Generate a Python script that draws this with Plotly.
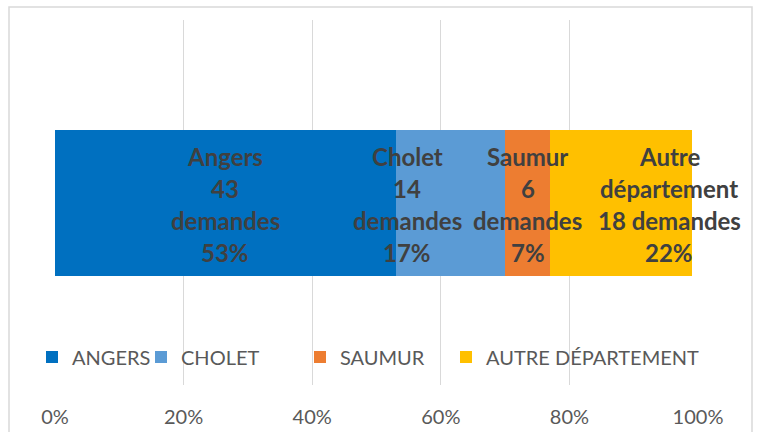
import plotly.graph_objects as go

# Data
categories = ["Demandes"]
series_names = ["ANGERS", "CHOLET", "SAUMUR", "AUTRE DÉPARTEMENT"]
label_names = ["Angers", "Cholet", "Saumur", "Autre département"]
counts = [43, 14, 6, 18]
percents = [53, 17, 7, 22]
tick_values = [0, 20, 40, 60, 80, 100]

# Styles
colors = ["#0070C0", "#5B9BD5", "#ED7D31", "#FFC000"]
label_x_offsets = [0, -6.7, 0, 7.5]  # manual label nudges (in % units)
legend_text_px = [73, 182, 341, 487]  # legend text start positions (pixels)
FONT = "Lato, Carlito, 'Liberation Sans', sans-serif"
PLOT_L, PLOT_W = 55, 643

fig = go.Figure()
legend_ids = ["legend", "legend2", "legend3", "legend4"]
for name, pct, col, lid in zip(series_names, percents, colors, legend_ids):
    fig.add_trace(go.Bar(
        y=categories, x=[pct], name=name, orientation="h",
        marker=dict(color=col, line=dict(width=0)),
        hoverinfo="x+name", legend=lid,
    ))


def label_lines(name, count, pct):
    words = name.split(" ")
    if len(words) > 1:
        return [words[0], " ".join(words[1:]), f"{count} demandes", f"{pct}%"]
    return [name, f"{count}", "demandes", f"{pct}%"]


annotations = []
start = 0
for name, cnt, pct, off in zip(label_names, counts, percents, label_x_offsets):
    cx = start + pct / 2 + off
    lines = label_lines(name, cnt, pct)
    n = len(lines)
    for i, line in enumerate(lines):
        annotations.append(dict(
            x=cx, y=0.5, xref="x", yref="paper",
            text=f"<b>{line}</b>", showarrow=False,
            xanchor="center", yanchor="middle",
            yshift=((n - 1) / 2 - i) * 31.7 - 2,
            font=dict(family=FONT, size=24, color="#404040"),
        ))
    start += pct

legend_style = dict(
    orientation="h", xanchor="left", y=0.077, yanchor="middle",
    font=dict(family=FONT, size=20, color="#595959"),
    bgcolor="rgba(0,0,0,0)", itemwidth=30,
)
legends = {}
for lid, tx in zip(legend_ids, legend_text_px):
    legends[lid] = dict(legend_style, x=(tx - 41 - PLOT_L) / PLOT_W)

fig.update_layout(
    width=758, height=432,
    margin=dict(l=55, r=60, t=20, b=47, autoexpand=False),
    paper_bgcolor="white", plot_bgcolor="white",
    barmode="stack", bargap=0.6,
    showlegend=True,
    xaxis=dict(
        range=[0, 100], tickvals=tick_values,
        ticktext=[f"{v}%" for v in tick_values],
        showgrid=True, gridcolor="#D9D9D9", gridwidth=1,
        zeroline=False, showline=False, ticks="",
        ticklabelstandoff=18, automargin=False,
        tickfont=dict(family=FONT, size=20, color="#595959"),
        fixedrange=True,
    ),
    yaxis=dict(
        showticklabels=False, showgrid=False, zeroline=False,
        showline=False, range=[-0.5, 0.5], fixedrange=True,
        automargin=False,
    ),
    annotations=annotations,
    shapes=[dict(
        type="rect", xref="paper", yref="paper",
        x0=(9 - 55) / 643, x1=(752 - 55) / 643,
        y0=-0.3, y1=1 + 13 / 365,
        line=dict(color="#D9D9D9", width=1.5),
        fillcolor="rgba(0,0,0,0)", layer="below",
    )],
    **legends,
)

fig.write_html("out.html", config={"displayModeBar": False},
               post_script="document.body.style.margin='0px';")
